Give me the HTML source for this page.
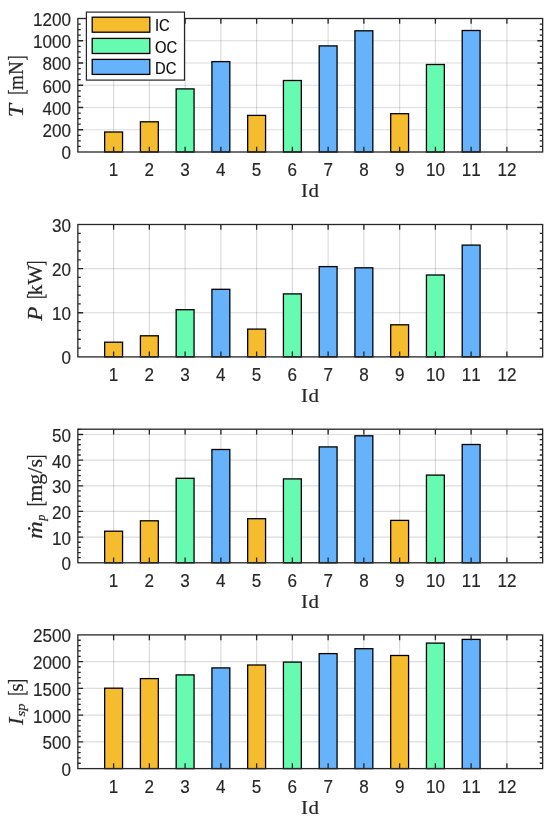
<!DOCTYPE html>
<html lang="en"><head><meta charset="utf-8"><title>Thruster performance by Id</title>
<style>html,body{margin:0;padding:0;background:#fff}svg{display:block;will-change:transform}.t{font-family:"Liberation Sans",sans-serif;fill:#262626;stroke:#262626;stroke-width:.16px}.s{font-family:"Liberation Serif",serif;fill:#262626;stroke:#262626;stroke-width:.2px}.i{font-style:italic}text{font-kerning:none}</style></head><body>
<svg width="550" height="821" viewBox="0 0 550 821">
<rect x="0" y="0" width="550" height="821" fill="#ffffff"/>
<g>
<path d="M113.6 18.5V152M149.36 18.5V152M185.11 18.5V152M220.87 18.5V152M256.62 18.5V152M292.37 18.5V152M328.13 18.5V152M363.88 18.5V152M399.63 18.5V152M435.39 18.5V152M471.14 18.5V152M506.9 18.5V152" stroke="#262626" stroke-opacity="0.16" stroke-width="1.2" fill="none"/>
<path d="M77.85 129.75H542.65M77.85 107.5H542.65M77.85 85.25H542.65M77.85 63H542.65M77.85 40.75H542.65" stroke="#262626" stroke-opacity="0.16" stroke-width="1.2" fill="none"/>
<rect x="104.65" y="132" width="17.9" height="20" fill="#F5BC2E" stroke="#000000" stroke-width="1.3"/>
<rect x="140.41" y="121.8" width="17.9" height="30.2" fill="#F5BC2E" stroke="#000000" stroke-width="1.3"/>
<rect x="176.16" y="88.9" width="17.9" height="63.1" fill="#66FBB0" stroke="#000000" stroke-width="1.3"/>
<rect x="211.92" y="61.6" width="17.9" height="90.4" fill="#66B2FB" stroke="#000000" stroke-width="1.3"/>
<rect x="247.67" y="115.4" width="17.9" height="36.6" fill="#F5BC2E" stroke="#000000" stroke-width="1.3"/>
<rect x="283.42" y="80.5" width="17.9" height="71.5" fill="#66FBB0" stroke="#000000" stroke-width="1.3"/>
<rect x="319.18" y="45.9" width="17.9" height="106.1" fill="#66B2FB" stroke="#000000" stroke-width="1.3"/>
<rect x="354.93" y="30.8" width="17.9" height="121.2" fill="#66B2FB" stroke="#000000" stroke-width="1.3"/>
<rect x="390.68" y="113.7" width="17.9" height="38.3" fill="#F5BC2E" stroke="#000000" stroke-width="1.3"/>
<rect x="426.44" y="64.5" width="17.9" height="87.5" fill="#66FBB0" stroke="#000000" stroke-width="1.3"/>
<rect x="462.19" y="30.5" width="17.9" height="121.5" fill="#66B2FB" stroke="#000000" stroke-width="1.3"/>
<path d="M113.6 152v-5.3M113.6 18.5v5.3M149.36 152v-5.3M149.36 18.5v5.3M185.11 152v-5.3M185.11 18.5v5.3M220.87 152v-5.3M220.87 18.5v5.3M256.62 152v-5.3M256.62 18.5v5.3M292.37 152v-5.3M292.37 18.5v5.3M328.13 152v-5.3M328.13 18.5v5.3M363.88 152v-5.3M363.88 18.5v5.3M399.63 152v-5.3M399.63 18.5v5.3M435.39 152v-5.3M435.39 18.5v5.3M471.14 152v-5.3M471.14 18.5v5.3M506.9 152v-5.3M506.9 18.5v5.3M77.85 146.44h2.9M542.65 146.44h-2.9M77.85 140.88h2.9M542.65 140.88h-2.9M77.85 135.31h2.9M542.65 135.31h-2.9M77.85 129.75h5.3M542.65 129.75h-5.3M77.85 124.19h2.9M542.65 124.19h-2.9M77.85 118.62h2.9M542.65 118.62h-2.9M77.85 113.06h2.9M542.65 113.06h-2.9M77.85 107.5h5.3M542.65 107.5h-5.3M77.85 101.94h2.9M542.65 101.94h-2.9M77.85 96.38h2.9M542.65 96.38h-2.9M77.85 90.81h2.9M542.65 90.81h-2.9M77.85 85.25h5.3M542.65 85.25h-5.3M77.85 79.69h2.9M542.65 79.69h-2.9M77.85 74.12h2.9M542.65 74.12h-2.9M77.85 68.56h2.9M542.65 68.56h-2.9M77.85 63h5.3M542.65 63h-5.3M77.85 57.44h2.9M542.65 57.44h-2.9M77.85 51.88h2.9M542.65 51.88h-2.9M77.85 46.31h2.9M542.65 46.31h-2.9M77.85 40.75h5.3M542.65 40.75h-5.3M77.85 35.19h2.9M542.65 35.19h-2.9M77.85 29.62h2.9M542.65 29.62h-2.9M77.85 24.06h2.9M542.65 24.06h-2.9" stroke="#262626" stroke-width="1.3" fill="none"/>
<rect x="77.85" y="18.5" width="464.8" height="133.5" fill="none" stroke="#262626" stroke-width="1.3"/>
<text class="t" transform="translate(70.95 159.4) scale(0.95 1)" font-size="18" text-anchor="end">0</text>
<text class="t" transform="translate(70.95 137.15) scale(0.95 1)" font-size="18" text-anchor="end">200</text>
<text class="t" transform="translate(70.95 114.9) scale(0.95 1)" font-size="18" text-anchor="end">400</text>
<text class="t" transform="translate(70.95 92.65) scale(0.95 1)" font-size="18" text-anchor="end">600</text>
<text class="t" transform="translate(70.95 70.4) scale(0.95 1)" font-size="18" text-anchor="end">800</text>
<text class="t" transform="translate(70.95 48.15) scale(0.95 1)" font-size="18" text-anchor="end">1000</text>
<text class="t" transform="translate(70.95 25.9) scale(0.95 1)" font-size="18" text-anchor="end">1200</text>
<text class="t" transform="translate(113.6 176.1) scale(0.95 1)" font-size="18" text-anchor="middle">1</text>
<text class="t" transform="translate(149.36 176.1) scale(0.95 1)" font-size="18" text-anchor="middle">2</text>
<text class="t" transform="translate(185.11 176.1) scale(0.95 1)" font-size="18" text-anchor="middle">3</text>
<text class="t" transform="translate(220.87 176.1) scale(0.95 1)" font-size="18" text-anchor="middle">4</text>
<text class="t" transform="translate(256.62 176.1) scale(0.95 1)" font-size="18" text-anchor="middle">5</text>
<text class="t" transform="translate(292.37 176.1) scale(0.95 1)" font-size="18" text-anchor="middle">6</text>
<text class="t" transform="translate(328.13 176.1) scale(0.95 1)" font-size="18" text-anchor="middle">7</text>
<text class="t" transform="translate(363.88 176.1) scale(0.95 1)" font-size="18" text-anchor="middle">8</text>
<text class="t" transform="translate(399.63 176.1) scale(0.95 1)" font-size="18" text-anchor="middle">9</text>
<text class="t" transform="translate(435.39 176.1) scale(0.95 1)" font-size="18" text-anchor="middle">10</text>
<text class="t" transform="translate(471.14 176.1) scale(0.95 1)" font-size="18" text-anchor="middle">11</text>
<text class="t" transform="translate(506.9 176.1) scale(0.95 1)" font-size="18" text-anchor="middle">12</text>
<text class="s" font-size="19.5" text-anchor="middle" letter-spacing="0.4" transform="translate(310.15 197.1) scale(1.07 1)">Id</text>
</g>
<g>
<path d="M113.6 224.5V356.9M149.36 224.5V356.9M185.11 224.5V356.9M220.87 224.5V356.9M256.62 224.5V356.9M292.37 224.5V356.9M328.13 224.5V356.9M363.88 224.5V356.9M399.63 224.5V356.9M435.39 224.5V356.9M471.14 224.5V356.9M506.9 224.5V356.9" stroke="#262626" stroke-opacity="0.16" stroke-width="1.2" fill="none"/>
<path d="M77.85 312.77H542.65M77.85 268.63H542.65" stroke="#262626" stroke-opacity="0.16" stroke-width="1.2" fill="none"/>
<rect x="104.65" y="342.2" width="17.9" height="14.7" fill="#F5BC2E" stroke="#000000" stroke-width="1.3"/>
<rect x="140.41" y="335.8" width="17.9" height="21.1" fill="#F5BC2E" stroke="#000000" stroke-width="1.3"/>
<rect x="176.16" y="309.7" width="17.9" height="47.2" fill="#66FBB0" stroke="#000000" stroke-width="1.3"/>
<rect x="211.92" y="289.3" width="17.9" height="67.6" fill="#66B2FB" stroke="#000000" stroke-width="1.3"/>
<rect x="247.67" y="329.1" width="17.9" height="27.8" fill="#F5BC2E" stroke="#000000" stroke-width="1.3"/>
<rect x="283.42" y="293.9" width="17.9" height="63" fill="#66FBB0" stroke="#000000" stroke-width="1.3"/>
<rect x="319.18" y="266.6" width="17.9" height="90.3" fill="#66B2FB" stroke="#000000" stroke-width="1.3"/>
<rect x="354.93" y="267.8" width="17.9" height="89.1" fill="#66B2FB" stroke="#000000" stroke-width="1.3"/>
<rect x="390.68" y="324.8" width="17.9" height="32.1" fill="#F5BC2E" stroke="#000000" stroke-width="1.3"/>
<rect x="426.44" y="275" width="17.9" height="81.9" fill="#66FBB0" stroke="#000000" stroke-width="1.3"/>
<rect x="462.19" y="245.1" width="17.9" height="111.8" fill="#66B2FB" stroke="#000000" stroke-width="1.3"/>
<path d="M113.6 356.9v-5.3M113.6 224.5v5.3M149.36 356.9v-5.3M149.36 224.5v5.3M185.11 356.9v-5.3M185.11 224.5v5.3M220.87 356.9v-5.3M220.87 224.5v5.3M256.62 356.9v-5.3M256.62 224.5v5.3M292.37 356.9v-5.3M292.37 224.5v5.3M328.13 356.9v-5.3M328.13 224.5v5.3M363.88 356.9v-5.3M363.88 224.5v5.3M399.63 356.9v-5.3M399.63 224.5v5.3M435.39 356.9v-5.3M435.39 224.5v5.3M471.14 356.9v-5.3M471.14 224.5v5.3M506.9 356.9v-5.3M506.9 224.5v5.3M77.85 348.07h2.9M542.65 348.07h-2.9M77.85 339.25h2.9M542.65 339.25h-2.9M77.85 330.42h2.9M542.65 330.42h-2.9M77.85 321.59h2.9M542.65 321.59h-2.9M77.85 312.77h5.3M542.65 312.77h-5.3M77.85 303.94h2.9M542.65 303.94h-2.9M77.85 295.11h2.9M542.65 295.11h-2.9M77.85 286.29h2.9M542.65 286.29h-2.9M77.85 277.46h2.9M542.65 277.46h-2.9M77.85 268.63h5.3M542.65 268.63h-5.3M77.85 259.81h2.9M542.65 259.81h-2.9M77.85 250.98h2.9M542.65 250.98h-2.9M77.85 242.15h2.9M542.65 242.15h-2.9M77.85 233.33h2.9M542.65 233.33h-2.9" stroke="#262626" stroke-width="1.3" fill="none"/>
<rect x="77.85" y="224.5" width="464.8" height="132.4" fill="none" stroke="#262626" stroke-width="1.3"/>
<text class="t" transform="translate(70.95 364.3) scale(0.95 1)" font-size="18" text-anchor="end">0</text>
<text class="t" transform="translate(70.95 320.17) scale(0.95 1)" font-size="18" text-anchor="end">10</text>
<text class="t" transform="translate(70.95 276.03) scale(0.95 1)" font-size="18" text-anchor="end">20</text>
<text class="t" transform="translate(70.95 231.9) scale(0.95 1)" font-size="18" text-anchor="end">30</text>
<text class="t" transform="translate(113.6 381) scale(0.95 1)" font-size="18" text-anchor="middle">1</text>
<text class="t" transform="translate(149.36 381) scale(0.95 1)" font-size="18" text-anchor="middle">2</text>
<text class="t" transform="translate(185.11 381) scale(0.95 1)" font-size="18" text-anchor="middle">3</text>
<text class="t" transform="translate(220.87 381) scale(0.95 1)" font-size="18" text-anchor="middle">4</text>
<text class="t" transform="translate(256.62 381) scale(0.95 1)" font-size="18" text-anchor="middle">5</text>
<text class="t" transform="translate(292.37 381) scale(0.95 1)" font-size="18" text-anchor="middle">6</text>
<text class="t" transform="translate(328.13 381) scale(0.95 1)" font-size="18" text-anchor="middle">7</text>
<text class="t" transform="translate(363.88 381) scale(0.95 1)" font-size="18" text-anchor="middle">8</text>
<text class="t" transform="translate(399.63 381) scale(0.95 1)" font-size="18" text-anchor="middle">9</text>
<text class="t" transform="translate(435.39 381) scale(0.95 1)" font-size="18" text-anchor="middle">10</text>
<text class="t" transform="translate(471.14 381) scale(0.95 1)" font-size="18" text-anchor="middle">11</text>
<text class="t" transform="translate(506.9 381) scale(0.95 1)" font-size="18" text-anchor="middle">12</text>
<text class="s" font-size="19.5" text-anchor="middle" letter-spacing="0.4" transform="translate(310.15 402) scale(1.07 1)">Id</text>
</g>
<g>
<path d="M113.6 429.2V562.8M149.36 429.2V562.8M185.11 429.2V562.8M220.87 429.2V562.8M256.62 429.2V562.8M292.37 429.2V562.8M328.13 429.2V562.8M363.88 429.2V562.8M399.63 429.2V562.8M435.39 429.2V562.8M471.14 429.2V562.8M506.9 429.2V562.8" stroke="#262626" stroke-opacity="0.16" stroke-width="1.2" fill="none"/>
<path d="M77.85 537.14H542.65M77.85 511.47H542.65M77.85 485.81H542.65M77.85 460.15H542.65M77.85 434.49H542.65" stroke="#262626" stroke-opacity="0.16" stroke-width="1.2" fill="none"/>
<rect x="104.65" y="531.2" width="17.9" height="31.6" fill="#F5BC2E" stroke="#000000" stroke-width="1.3"/>
<rect x="140.41" y="520.8" width="17.9" height="42" fill="#F5BC2E" stroke="#000000" stroke-width="1.3"/>
<rect x="176.16" y="478.3" width="17.9" height="84.5" fill="#66FBB0" stroke="#000000" stroke-width="1.3"/>
<rect x="211.92" y="449.5" width="17.9" height="113.3" fill="#66B2FB" stroke="#000000" stroke-width="1.3"/>
<rect x="247.67" y="518.7" width="17.9" height="44.1" fill="#F5BC2E" stroke="#000000" stroke-width="1.3"/>
<rect x="283.42" y="478.9" width="17.9" height="83.9" fill="#66FBB0" stroke="#000000" stroke-width="1.3"/>
<rect x="319.18" y="446.9" width="17.9" height="115.9" fill="#66B2FB" stroke="#000000" stroke-width="1.3"/>
<rect x="354.93" y="435.8" width="17.9" height="127" fill="#66B2FB" stroke="#000000" stroke-width="1.3"/>
<rect x="390.68" y="520.4" width="17.9" height="42.4" fill="#F5BC2E" stroke="#000000" stroke-width="1.3"/>
<rect x="426.44" y="475.1" width="17.9" height="87.7" fill="#66FBB0" stroke="#000000" stroke-width="1.3"/>
<rect x="462.19" y="444.5" width="17.9" height="118.3" fill="#66B2FB" stroke="#000000" stroke-width="1.3"/>
<path d="M113.6 562.8v-5.3M113.6 429.2v5.3M149.36 562.8v-5.3M149.36 429.2v5.3M185.11 562.8v-5.3M185.11 429.2v5.3M220.87 562.8v-5.3M220.87 429.2v5.3M256.62 562.8v-5.3M256.62 429.2v5.3M292.37 562.8v-5.3M292.37 429.2v5.3M328.13 562.8v-5.3M328.13 429.2v5.3M363.88 562.8v-5.3M363.88 429.2v5.3M399.63 562.8v-5.3M399.63 429.2v5.3M435.39 562.8v-5.3M435.39 429.2v5.3M471.14 562.8v-5.3M471.14 429.2v5.3M506.9 562.8v-5.3M506.9 429.2v5.3M77.85 557.67h2.9M542.65 557.67h-2.9M77.85 552.53h2.9M542.65 552.53h-2.9M77.85 547.4h2.9M542.65 547.4h-2.9M77.85 542.27h2.9M542.65 542.27h-2.9M77.85 537.14h5.3M542.65 537.14h-5.3M77.85 532h2.9M542.65 532h-2.9M77.85 526.87h2.9M542.65 526.87h-2.9M77.85 521.74h2.9M542.65 521.74h-2.9M77.85 516.61h2.9M542.65 516.61h-2.9M77.85 511.47h5.3M542.65 511.47h-5.3M77.85 506.34h2.9M542.65 506.34h-2.9M77.85 501.21h2.9M542.65 501.21h-2.9M77.85 496.08h2.9M542.65 496.08h-2.9M77.85 490.94h2.9M542.65 490.94h-2.9M77.85 485.81h5.3M542.65 485.81h-5.3M77.85 480.68h2.9M542.65 480.68h-2.9M77.85 475.55h2.9M542.65 475.55h-2.9M77.85 470.41h2.9M542.65 470.41h-2.9M77.85 465.28h2.9M542.65 465.28h-2.9M77.85 460.15h5.3M542.65 460.15h-5.3M77.85 455.02h2.9M542.65 455.02h-2.9M77.85 449.88h2.9M542.65 449.88h-2.9M77.85 444.75h2.9M542.65 444.75h-2.9M77.85 439.62h2.9M542.65 439.62h-2.9M77.85 434.49h5.3M542.65 434.49h-5.3M77.85 429.35h2.9M542.65 429.35h-2.9" stroke="#262626" stroke-width="1.3" fill="none"/>
<rect x="77.85" y="429.2" width="464.8" height="133.6" fill="none" stroke="#262626" stroke-width="1.3"/>
<text class="t" transform="translate(70.95 570.2) scale(0.95 1)" font-size="18" text-anchor="end">0</text>
<text class="t" transform="translate(70.95 544.54) scale(0.95 1)" font-size="18" text-anchor="end">10</text>
<text class="t" transform="translate(70.95 518.87) scale(0.95 1)" font-size="18" text-anchor="end">20</text>
<text class="t" transform="translate(70.95 493.21) scale(0.95 1)" font-size="18" text-anchor="end">30</text>
<text class="t" transform="translate(70.95 467.55) scale(0.95 1)" font-size="18" text-anchor="end">40</text>
<text class="t" transform="translate(70.95 441.89) scale(0.95 1)" font-size="18" text-anchor="end">50</text>
<text class="t" transform="translate(113.6 586.9) scale(0.95 1)" font-size="18" text-anchor="middle">1</text>
<text class="t" transform="translate(149.36 586.9) scale(0.95 1)" font-size="18" text-anchor="middle">2</text>
<text class="t" transform="translate(185.11 586.9) scale(0.95 1)" font-size="18" text-anchor="middle">3</text>
<text class="t" transform="translate(220.87 586.9) scale(0.95 1)" font-size="18" text-anchor="middle">4</text>
<text class="t" transform="translate(256.62 586.9) scale(0.95 1)" font-size="18" text-anchor="middle">5</text>
<text class="t" transform="translate(292.37 586.9) scale(0.95 1)" font-size="18" text-anchor="middle">6</text>
<text class="t" transform="translate(328.13 586.9) scale(0.95 1)" font-size="18" text-anchor="middle">7</text>
<text class="t" transform="translate(363.88 586.9) scale(0.95 1)" font-size="18" text-anchor="middle">8</text>
<text class="t" transform="translate(399.63 586.9) scale(0.95 1)" font-size="18" text-anchor="middle">9</text>
<text class="t" transform="translate(435.39 586.9) scale(0.95 1)" font-size="18" text-anchor="middle">10</text>
<text class="t" transform="translate(471.14 586.9) scale(0.95 1)" font-size="18" text-anchor="middle">11</text>
<text class="t" transform="translate(506.9 586.9) scale(0.95 1)" font-size="18" text-anchor="middle">12</text>
<text class="s" font-size="19.5" text-anchor="middle" letter-spacing="0.4" transform="translate(310.15 607.9) scale(1.07 1)">Id</text>
</g>
<g>
<path d="M113.6 634.9V768.6M149.36 634.9V768.6M185.11 634.9V768.6M220.87 634.9V768.6M256.62 634.9V768.6M292.37 634.9V768.6M328.13 634.9V768.6M363.88 634.9V768.6M399.63 634.9V768.6M435.39 634.9V768.6M471.14 634.9V768.6M506.9 634.9V768.6" stroke="#262626" stroke-opacity="0.16" stroke-width="1.2" fill="none"/>
<path d="M77.85 741.86H542.65M77.85 715.12H542.65M77.85 688.38H542.65M77.85 661.64H542.65" stroke="#262626" stroke-opacity="0.16" stroke-width="1.2" fill="none"/>
<rect x="104.65" y="688.2" width="17.9" height="80.4" fill="#F5BC2E" stroke="#000000" stroke-width="1.3"/>
<rect x="140.41" y="678.6" width="17.9" height="90" fill="#F5BC2E" stroke="#000000" stroke-width="1.3"/>
<rect x="176.16" y="674.9" width="17.9" height="93.7" fill="#66FBB0" stroke="#000000" stroke-width="1.3"/>
<rect x="211.92" y="667.9" width="17.9" height="100.7" fill="#66B2FB" stroke="#000000" stroke-width="1.3"/>
<rect x="247.67" y="665" width="17.9" height="103.6" fill="#F5BC2E" stroke="#000000" stroke-width="1.3"/>
<rect x="283.42" y="662.1" width="17.9" height="106.5" fill="#66FBB0" stroke="#000000" stroke-width="1.3"/>
<rect x="319.18" y="653.6" width="17.9" height="115" fill="#66B2FB" stroke="#000000" stroke-width="1.3"/>
<rect x="354.93" y="648.7" width="17.9" height="119.9" fill="#66B2FB" stroke="#000000" stroke-width="1.3"/>
<rect x="390.68" y="655.5" width="17.9" height="113.1" fill="#F5BC2E" stroke="#000000" stroke-width="1.3"/>
<rect x="426.44" y="643.1" width="17.9" height="125.5" fill="#66FBB0" stroke="#000000" stroke-width="1.3"/>
<rect x="462.19" y="639.4" width="17.9" height="129.2" fill="#66B2FB" stroke="#000000" stroke-width="1.3"/>
<path d="M113.6 768.6v-5.3M113.6 634.9v5.3M149.36 768.6v-5.3M149.36 634.9v5.3M185.11 768.6v-5.3M185.11 634.9v5.3M220.87 768.6v-5.3M220.87 634.9v5.3M256.62 768.6v-5.3M256.62 634.9v5.3M292.37 768.6v-5.3M292.37 634.9v5.3M328.13 768.6v-5.3M328.13 634.9v5.3M363.88 768.6v-5.3M363.88 634.9v5.3M399.63 768.6v-5.3M399.63 634.9v5.3M435.39 768.6v-5.3M435.39 634.9v5.3M471.14 768.6v-5.3M471.14 634.9v5.3M506.9 768.6v-5.3M506.9 634.9v5.3M77.85 763.25h2.9M542.65 763.25h-2.9M77.85 757.9h2.9M542.65 757.9h-2.9M77.85 752.56h2.9M542.65 752.56h-2.9M77.85 747.21h2.9M542.65 747.21h-2.9M77.85 741.86h5.3M542.65 741.86h-5.3M77.85 736.51h2.9M542.65 736.51h-2.9M77.85 731.16h2.9M542.65 731.16h-2.9M77.85 725.82h2.9M542.65 725.82h-2.9M77.85 720.47h2.9M542.65 720.47h-2.9M77.85 715.12h5.3M542.65 715.12h-5.3M77.85 709.77h2.9M542.65 709.77h-2.9M77.85 704.42h2.9M542.65 704.42h-2.9M77.85 699.08h2.9M542.65 699.08h-2.9M77.85 693.73h2.9M542.65 693.73h-2.9M77.85 688.38h5.3M542.65 688.38h-5.3M77.85 683.03h2.9M542.65 683.03h-2.9M77.85 677.68h2.9M542.65 677.68h-2.9M77.85 672.34h2.9M542.65 672.34h-2.9M77.85 666.99h2.9M542.65 666.99h-2.9M77.85 661.64h5.3M542.65 661.64h-5.3M77.85 656.29h2.9M542.65 656.29h-2.9M77.85 650.94h2.9M542.65 650.94h-2.9M77.85 645.6h2.9M542.65 645.6h-2.9M77.85 640.25h2.9M542.65 640.25h-2.9" stroke="#262626" stroke-width="1.3" fill="none"/>
<rect x="77.85" y="634.9" width="464.8" height="133.7" fill="none" stroke="#262626" stroke-width="1.3"/>
<text class="t" transform="translate(70.95 776) scale(0.95 1)" font-size="18" text-anchor="end">0</text>
<text class="t" transform="translate(70.95 749.26) scale(0.95 1)" font-size="18" text-anchor="end">500</text>
<text class="t" transform="translate(70.95 722.52) scale(0.95 1)" font-size="18" text-anchor="end">1000</text>
<text class="t" transform="translate(70.95 695.78) scale(0.95 1)" font-size="18" text-anchor="end">1500</text>
<text class="t" transform="translate(70.95 669.04) scale(0.95 1)" font-size="18" text-anchor="end">2000</text>
<text class="t" transform="translate(70.95 642.3) scale(0.95 1)" font-size="18" text-anchor="end">2500</text>
<text class="t" transform="translate(113.6 792.7) scale(0.95 1)" font-size="18" text-anchor="middle">1</text>
<text class="t" transform="translate(149.36 792.7) scale(0.95 1)" font-size="18" text-anchor="middle">2</text>
<text class="t" transform="translate(185.11 792.7) scale(0.95 1)" font-size="18" text-anchor="middle">3</text>
<text class="t" transform="translate(220.87 792.7) scale(0.95 1)" font-size="18" text-anchor="middle">4</text>
<text class="t" transform="translate(256.62 792.7) scale(0.95 1)" font-size="18" text-anchor="middle">5</text>
<text class="t" transform="translate(292.37 792.7) scale(0.95 1)" font-size="18" text-anchor="middle">6</text>
<text class="t" transform="translate(328.13 792.7) scale(0.95 1)" font-size="18" text-anchor="middle">7</text>
<text class="t" transform="translate(363.88 792.7) scale(0.95 1)" font-size="18" text-anchor="middle">8</text>
<text class="t" transform="translate(399.63 792.7) scale(0.95 1)" font-size="18" text-anchor="middle">9</text>
<text class="t" transform="translate(435.39 792.7) scale(0.95 1)" font-size="18" text-anchor="middle">10</text>
<text class="t" transform="translate(471.14 792.7) scale(0.95 1)" font-size="18" text-anchor="middle">11</text>
<text class="t" transform="translate(506.9 792.7) scale(0.95 1)" font-size="18" text-anchor="middle">12</text>
<text class="s" font-size="19.5" text-anchor="middle" letter-spacing="0.4" transform="translate(310.15 813.7) scale(1.07 1)">Id</text>
</g>
<g transform="translate(22.5 115.6) rotate(-90)"><text class="s i" font-size="20" transform="translate(-1.56 0) scale(1.191 1.000)">T</text><text class="s" font-size="20" transform="translate(20.84 1.38) scale(0.780 1.166)">[</text><text class="s" font-size="20" transform="translate(25.6 0) scale(0.958 1.000)">mN</text><text class="s" font-size="20" transform="translate(55.17 1.38) scale(0.780 1.166)">]</text></g>
<g transform="translate(42 320.8) rotate(-90)"><text class="s i" font-size="20" transform="translate(0.12 0) scale(1.159 1.000)">P</text><text class="s" font-size="20" transform="translate(21.74 1.38) scale(0.780 1.166)">[</text><text class="s" font-size="20" transform="translate(25.5 0) scale(1.058 1.000)">kW</text><text class="s" font-size="20" transform="translate(55.07 1.38) scale(0.780 1.166)">]</text></g>
<g transform="translate(41.8 538) rotate(-90)"><text class="s i" font-size="20" transform="translate(-0.89 0) scale(1.227 1.000)">ṁ</text><text class="s i" font-size="13" transform="translate(17.22 2.7) scale(0.946 1.000)">p</text><text class="s" font-size="20" transform="translate(31.84 1.38) scale(0.780 1.166)">[</text><text class="s" font-size="20" transform="translate(36.24 0) scale(1.102 1.000)">mg/s</text><text class="s" font-size="20" transform="translate(78.17 1.38) scale(0.780 1.166)">]</text></g>
<g transform="translate(22.7 725) rotate(-90)"><text class="s i" font-size="20" transform="translate(0.09 0) scale(1.117 1.000)">I</text><text class="s i" font-size="13" transform="translate(8.62 2.7) scale(1.127 1.000)">sp</text><text class="s" font-size="20" transform="translate(29.34 1.38) scale(0.780 1.166)">[</text><text class="s" font-size="20" transform="translate(33.55 0) scale(1.042 1.000)">s</text><text class="s" font-size="20" transform="translate(40.97 1.38) scale(0.780 1.166)">]</text></g>
<g>
<rect x="86.4" y="12.1" width="98.1" height="68" fill="#ffffff" stroke="#262626" stroke-width="1.2"/>
<rect x="92.2" y="17.2" width="57.6" height="15" fill="#F5BC2E" stroke="#000000" stroke-width="1.3"/>
<text class="t" transform="translate(155.0 31.4) scale(0.93 1)" font-size="15.9" style="fill:#0a0a0a;stroke:#0a0a0a">IC</text>
<rect x="92.2" y="38.4" width="57.6" height="15.1" fill="#66FBB0" stroke="#000000" stroke-width="1.3"/>
<text class="t" transform="translate(155.0 52.65) scale(0.93 1)" font-size="15.9" style="fill:#0a0a0a;stroke:#0a0a0a">OC</text>
<rect x="92.2" y="59.4" width="57.6" height="15" fill="#66B2FB" stroke="#000000" stroke-width="1.3"/>
<text class="t" transform="translate(155.0 73.6) scale(0.93 1)" font-size="15.9" style="fill:#0a0a0a;stroke:#0a0a0a">DC</text>
</g>
</svg>
</body></html>
